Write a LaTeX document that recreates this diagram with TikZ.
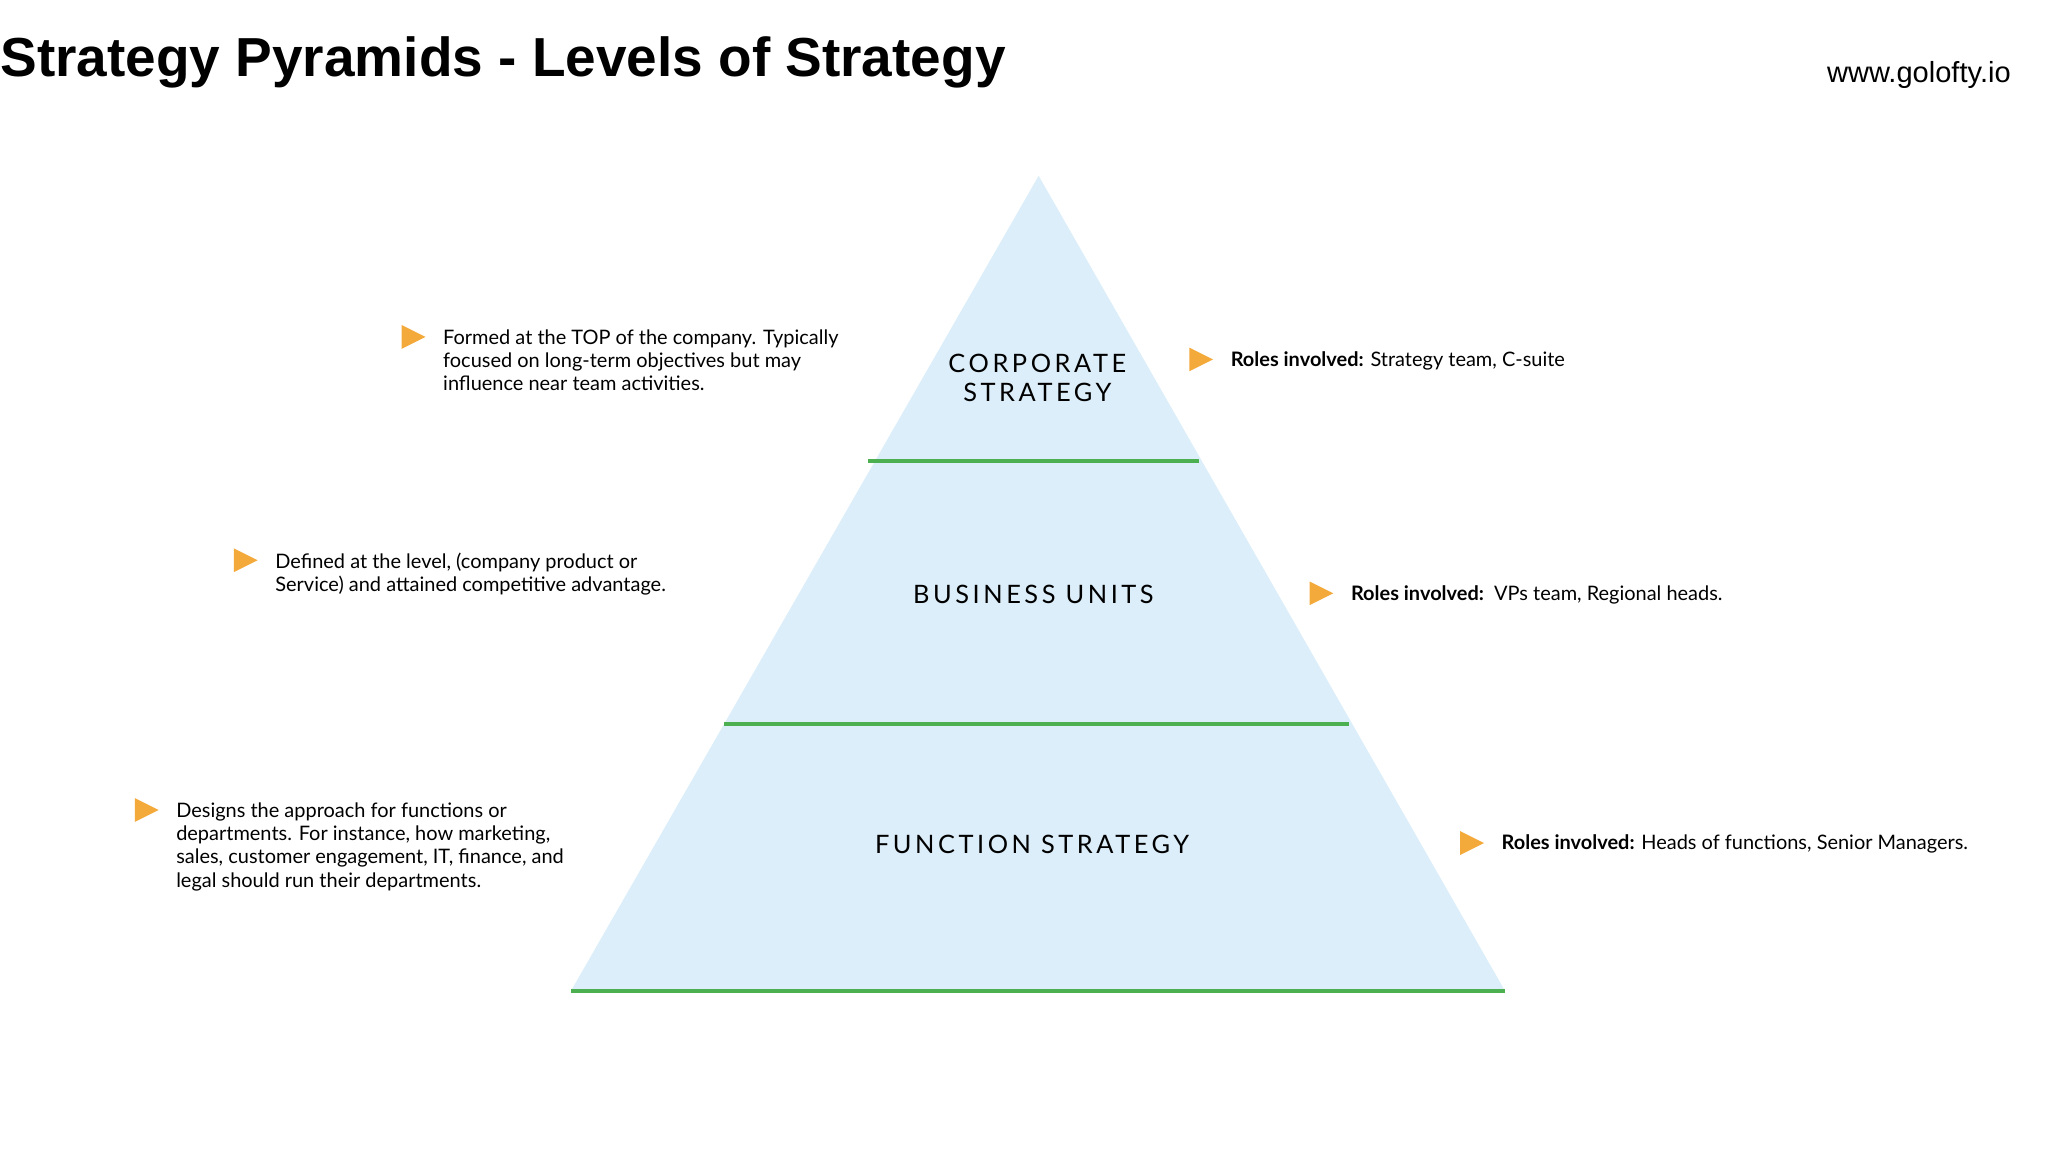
\documentclass[tikz,border=0pt]{standalone}
\usepackage{fontspec}
\setmainfont{Lato}
\newfontfamily\titlefont{Liberation Sans}
\newfontfamily\spaced[LetterSpace=14]{Lato}
\definecolor{pyr}{HTML}{DCEEF9}
\definecolor{grn}{HTML}{4CAF50}
\definecolor{org}{HTML}{F4A93B}
\begin{document}
\begin{tikzpicture}[x=0.5pt,y=-0.5pt,
  body/.style={anchor=north west,align=left,inner sep=0pt,font=\fontsize{7.55}{8.8}\selectfont},
  lvl/.style={align=center,inner sep=0pt,font=\spaced\fontsize{9.6}{10.8}\selectfont},
  gline/.style={draw=grn,line width=1.5pt}]
\useasboundingbox (0,0) rectangle (1568,881);
\fill[pyr] (786,133) coordinate (apex) -- (432,750) coordinate (bl) -- (1139,750) coordinate (br) -- cycle;
\coordinate (a1) at (657,349); \coordinate (b1) at (907,349);
\coordinate (a2) at (548,548); \coordinate (b2) at (1021,548);
\draw[gline] (a1) -- (b1);
\draw[gline] (a2) -- (b2);
\draw[gline] (bl) -- (br);
\node[anchor=west,inner sep=0pt,font=\titlefont\bfseries\fontsize{20.8}{24}\selectfont] (title) at (0,47) {Strategy Pyramids - Levels of Strategy};
\node[anchor=east,inner sep=0pt,font=\titlefont\fontsize{11}{12}\selectfont] (web) at (1522,57) {www.golofty.io};
\node[lvl] (l1) at (785,286) {CORPORATE\\STRATEGY};
\node[lvl] (l2) at (782,450) {BUSINESS UNITS};
\node[lvl] (l3) at (781,639) {FUNCTION STRATEGY};
\foreach \n/\x/\y in {t1/304/255,t2/177/424,t3/102/613,t4/900/272,t5/991/449,t6/1105/638}{
  \fill[org] (\x,\y-9) -- (\x+18,\y) -- (\x,\y+9) -- cycle;
}
\node[body] (d1) at (335,249) {Formed at the TOP of the company. Typically\\focused on long-term objectives but may\\influence near team activities.};
\node[body] (d2) at (208,418) {Defined at the level, (company product or\\Service) and attained competitive advantage.};
\node[body] (d3) at (133,607) {Designs the approach for functions or\\departments. For instance, how marketing,\\sales, customer engagement, IT, finance, and\\legal should run their departments.};
\node[body,anchor=west] (r1) at (931,273) {\textbf{Roles involved:} Strategy team, C-suite};
\node[body,anchor=west] (r2) at (1022,450) {\textbf{Roles involved:}\ \ VPs team, Regional heads.};
\node[body,anchor=west] (r3) at (1136,639) {\textbf{Roles involved:} Heads of functions, Senior Managers.};
\end{tikzpicture}
\end{document}
